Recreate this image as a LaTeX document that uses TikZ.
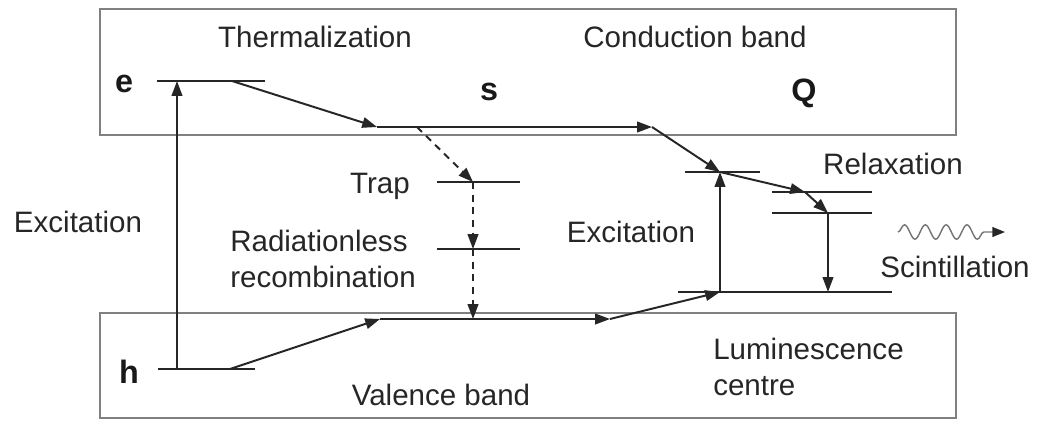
\documentclass[tikz,border=0pt]{standalone}
\usepackage{fontspec}
\setmainfont{Liberation Sans}
\usetikzlibrary{arrows.meta, positioning, decorations.pathmorphing}
\tikzstyle{band}=[draw=black!50, line width=1.2pt]
\tikzstyle{level}=[draw=black!85, line width=1.4pt]
\tikzstyle{arrow}=[-{Triangle[length=10.5pt,width=7.5pt]}, line width=1.4pt, color=black!85]
\tikzstyle{darrow}=[arrow, dash pattern=on 5pt off 4pt]
\tikzstyle{wave}=[-{Triangle[length=9pt,width=7pt,color=black!85]}, draw=black!55,
                  line width=1pt, decorate,
                  decoration={snake, segment length=0.52cm, amplitude=0.18cm, post length=0.3cm}]
\tikzstyle{lbl}=[font=\fontsize{21}{26}\selectfont, text=black!85, inner sep=0pt]
\tikzstyle{carrier}=[font=\fontsize{23}{26}\selectfont\bfseries, text=black!90, inner sep=0pt]

\begin{document}
\begin{tikzpicture}[x=0.025cm, y=-0.025cm]
  \useasboundingbox (0,0) rectangle (1038,421);

  % Bands
  \draw[band] (100,9) rectangle (956,135);
  \draw[band] (100,313) rectangle (956,418);

  % Levels
  \coordinate (e1) at (157,81);  \coordinate (e2) at (265,81);
  \coordinate (h1) at (158,369); \coordinate (h2) at (255,369);
  \coordinate (t1) at (437,182); \coordinate (t2) at (520,182);
  \coordinate (r1) at (437,249); \coordinate (r2) at (520,249);
  \coordinate (q1) at (685,172); \coordinate (q2) at (760,172);
  \coordinate (u1) at (772,192); \coordinate (u2) at (872,192);
  \coordinate (l1) at (772,213); \coordinate (l2) at (872,213);
  \coordinate (g1) at (678,292); \coordinate (g2) at (892,292);
  \draw[level] (e1) -- (e2);
  \draw[level] (h1) -- (h2);
  \draw[level] (t1) -- (t2);
  \draw[level] (r1) -- (r2);
  \draw[level] (q1) -- (q2);
  \draw[level] (u1) -- (u2);
  \draw[level] (l1) -- (l2);
  \draw[level] (g1) -- (g2);

  % Path points
  \coordinate (eexc) at (177,81);   \coordinate (hexc) at (177,369);
  \coordinate (etherm) at (232,81); \coordinate (hval) at (230,369);
  \coordinate (c1) at (377,127);    \coordinate (c2) at (652,127);
  \coordinate (ctrap) at (417,127);
  \coordinate (tm) at (473,182);    \coordinate (rm) at (473,249);
  \coordinate (vm) at (473,319);
  \coordinate (v1) at (380,319);    \coordinate (v2) at (610,319);
  \coordinate (qm) at (720,172);    \coordinate (gq) at (720,292);
  \coordinate (um) at (805,192);    \coordinate (lm) at (828,213);
  \coordinate (gl) at (828,292);
  \coordinate (w1) at (898,232);    \coordinate (w2) at (1005,232);

  % Arrows
  \draw[arrow] (hexc) -- (eexc);
  \draw[arrow] (etherm) -- (c1);
  \draw[arrow] (c1) -- (c2);
  \draw[arrow] (c2) -- (qm);
  \draw[arrow] (qm) -- (um);
  \draw[arrow] (um) -- (lm);
  \draw[arrow] (lm) -- (gl);
  \draw[arrow] (gq) -- (qm);
  \draw[arrow] (hval) -- (v1);
  \draw[arrow] (v1) -- (v2);
  \draw[arrow] (v2) -- (gq);
  \draw[darrow] (ctrap) -- (tm);
  \draw[darrow] (tm) -- (rm);
  \draw[darrow] (rm) -- (vm);
  \draw[wave] (w1) -- (w2);

  % Labels
  \node[lbl, anchor=base] (therm) at (315,47) {Thermalization};
  \node[lbl, anchor=base] (cband) at (695,47) {Conduction band};
  \node[carrier, anchor=base] (e) at (124,92) {e};
  \node[carrier, anchor=base] (h) at (129,383) {h};
  \node[carrier, anchor=base] (s) at (489,100) {s};
  \node[carrier, anchor=base] (Q) at (804,101) {Q};
  \node[lbl, anchor=base] (trap) at (380,193) {Trap};
  \node[lbl, anchor=west, align=left] (radless) at (230,259) {Radiationless\\recombination};
  \node[lbl, anchor=base] (exc1) at (78,232) {Excitation};
  \node[lbl, anchor=base] (exc2) at (631,242) {Excitation};
  \node[lbl, anchor=base] (relax) at (893,174) {Relaxation};
  \node[lbl, anchor=base] (scint) at (955,277) {Scintillation};
  \node[lbl, anchor=base] (vband) at (441,405) {Valence band};
  \node[lbl, anchor=west, align=left] (lumc) at (713,367) {Luminescence\\centre};
\end{tikzpicture}
\end{document}
